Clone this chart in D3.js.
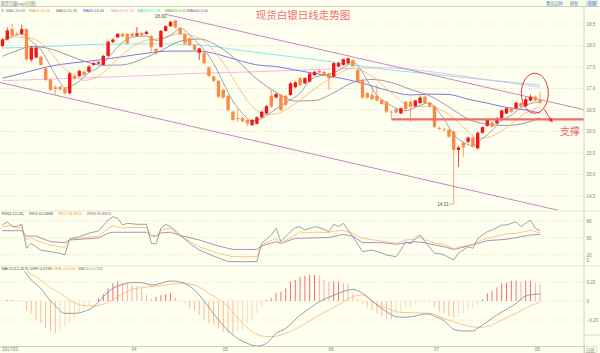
<!DOCTYPE html>
<html lang="zh">
<head>
<meta charset="UTF-8">
<title>现货白银日线走势图</title>
<script src="https://d3js.org/d3.v7.min.js"></script>
<style>
  body { margin: 0; background: #fffff0; }
  svg { display: block; }
  text { font-family: "Liberation Sans", "Noto Sans CJK SC", sans-serif; }
</style>
</head>
<body>
<script>
// daily candles: [open, high, low, close]
const candles = [
  [17.99,18.17,17.96,18.14],[18.14,18.42,18.12,18.35],[18.38,18.50,18.21,18.24],[18.27,18.32,18.22,18.26],
  [18.27,18.48,18.25,18.38],[18.38,18.40,17.64,17.68],[17.67,17.98,17.62,17.95],[17.72,17.97,17.70,17.95],
  [17.74,17.76,17.53,17.55],[17.47,17.50,17.17,17.20],[17.21,17.23,16.94,16.97],[17.03,17.08,16.85,16.99],
  [17.04,17.07,16.95,16.98],[17.00,17.03,16.85,16.89],[16.89,17.38,16.86,17.35],[17.29,17.32,17.20,17.24],
  [17.29,17.44,17.27,17.41],[17.39,17.42,17.30,17.32],[17.39,17.54,17.37,17.51],[17.55,17.62,17.53,17.59],
  [17.58,17.64,17.56,17.61],[17.55,17.78,17.53,17.76],[17.76,18.11,17.74,18.09],[18.08,18.17,18.05,18.14],
  [18.19,18.29,18.17,18.27],[18.27,18.30,18.19,18.21],[18.27,18.29,18.02,18.05],[18.27,18.30,18.20,18.22],
  [18.23,18.43,18.21,18.28],[18.29,18.32,18.22,18.24],[18.27,18.35,18.25,18.32],[18.22,18.24,17.86,17.96],
  [17.92,17.94,17.78,17.82],[17.97,18.36,17.95,18.34],[18.34,18.47,18.32,18.45],[18.45,18.57,18.43,18.55],
  [18.58,18.60,18.40,18.42],[18.40,18.42,18.24,18.27],[18.27,18.29,18.02,18.05],[18.17,18.19,17.98,18.01],
  [18.01,18.03,17.87,17.90],[17.83,17.95,17.66,17.93],[17.83,17.86,17.56,17.59],[17.49,17.52,17.26,17.29],
  [17.28,17.30,17.15,17.18],[17.18,17.20,16.78,16.81],[16.97,16.99,16.76,16.79],[16.83,16.85,16.47,16.50],
  [16.46,16.48,16.24,16.27],[16.31,16.52,16.22,16.29],[16.31,16.33,16.21,16.24],[16.27,16.29,16.13,16.19],
  [16.15,16.29,16.12,16.27],[16.18,16.35,16.16,16.33],[16.33,16.48,16.31,16.46],[16.42,16.62,16.40,16.59],
  [16.83,16.97,16.55,16.58],[16.79,16.90,16.77,16.87],[16.85,16.88,16.47,16.50],[16.83,16.85,16.60,16.62],
  [16.85,17.15,16.83,17.12],[17.03,17.17,17.01,17.14],[17.24,17.27,17.05,17.08],[17.12,17.26,17.10,17.24],
  [17.16,17.37,17.14,17.35],[17.31,17.41,17.29,17.39],[17.41,17.44,17.35,17.37],[17.39,17.41,17.29,17.31],
  [17.35,17.37,16.97,17.24],[17.28,17.61,17.25,17.59],[17.51,17.62,17.49,17.59],[17.55,17.70,17.53,17.68],
  [17.59,17.73,17.57,17.70],[17.66,17.68,17.50,17.52],[17.43,17.46,17.13,17.16],[17.20,17.22,16.76,16.79],
  [16.89,16.91,16.76,16.79],[16.85,17.04,16.72,16.75],[16.83,17.08,16.70,16.72],[16.73,16.75,16.62,16.64],
  [16.69,16.71,16.43,16.46],[16.46,16.49,16.30,16.45],[16.52,16.55,16.42,16.44],[16.42,16.56,16.40,16.54],
  [16.69,16.71,16.49,16.52],[16.69,16.72,16.23,16.58],[16.59,16.74,16.56,16.72],[16.66,16.84,16.64,16.79],
  [16.81,16.89,16.64,16.66],[16.67,16.69,16.56,16.59],[16.59,16.61,16.08,16.11],[16.08,16.12,16.03,16.06],
  [16.06,16.09,16.00,16.04],[16.04,16.06,15.85,15.88],[16.00,16.02,14.31,15.57],[15.57,15.66,15.18,15.63],
  [15.74,15.77,15.41,15.63],[15.76,15.88,15.73,15.86],[15.86,15.88,15.62,15.65],[15.61,16.00,15.58,15.97],
  [15.97,16.12,15.95,16.10],[16.13,16.30,16.11,16.27],[16.21,16.24,16.09,16.11],[16.19,16.33,16.17,16.31],
  [16.31,16.51,16.29,16.49],[16.42,16.56,16.40,16.54],[16.54,16.57,16.43,16.46],[16.54,16.69,16.52,16.67],
  [16.66,16.68,16.56,16.58],[16.59,16.80,16.57,16.75],[16.72,16.86,16.70,16.81],[16.81,16.84,16.70,16.72],
  [16.73,16.93,16.64,16.67]
];

const monthTicks = [0, 27, 46, 68, 90, 111];
const monthLabels = ["2017/02", "04", "05", "06", "07", "08"];
const priceTicks = [14.5, 15.0, 15.5, 16.0, 16.5, 17.0, 17.5, 18.0, 18.5];
const rsiTicks = [0, 20, 50, 80];
const macdTicks = [-0.2, 0, 0.2];

// moving averages, [candle index, value]
const ma5 = [[0,18.10],[2,18.22],[4,18.27],[6,18.10],[8,17.90],[10,17.52],[12,17.14],[13,17.01],[14,17.04],[16,17.17],
  [18,17.37],[20,17.49],[22,17.71],[24,17.97],[26,18.15],[28,18.21],[30,18.22],[32,18.12],[34,18.18],[36,18.32],
  [37,18.41],[38,18.35],[40,18.13],[42,17.90],[44,17.58],[46,17.13],[48,16.71],[50,16.42],[52,16.25],[53,16.26],
  [54,16.30],[56,16.45],[58,16.60],[60,16.74],[62,16.89],[64,17.19],[66,17.29],[68,17.33],[70,17.42],[72,17.56],
  [73,17.62],[74,17.53],[76,17.19],[78,16.84],[80,16.67],[82,16.54],[84,16.48],[86,16.56],[88,16.65],[89,16.67],
  [90,16.57],[92,16.29],[94,15.93],[96,15.75],[98,15.67],[100,15.84],[102,16.02],[104,16.26],[106,16.38],
  [108,16.55],[110,16.65],[112,16.69]];
const ma10 = [[0,18.12],[3,18.20],[6,18.17],[9,17.97],[13,17.45],[15,17.31],[17,17.19],[19,17.23],[21,17.37],
  [25,17.79],[29,18.09],[33,18.17],[37,18.27],[41,18.17],[45,17.75],[49,17.06],[51,16.72],[53,16.49],[55,16.39],
  [57,16.41],[61,16.65],[65,16.99],[69,17.28],[73,17.47],[77,17.28],[81,16.90],[85,16.59],[89,16.58],[93,16.40],
  [97,16.00],[99,15.84],[101,15.86],[105,16.09],[109,16.43],[112,16.58]];
const ma20 = [[0,17.75],[3,17.88],[6,17.98],[10,17.92],[14,17.76],[18,17.60],[21,17.54],[25,17.55],[29,17.68],
  [33,17.88],[37,18.10],[41,18.15],[45,17.98],[49,17.64],[53,17.22],[57,16.91],[61,16.71],[65,16.72],[69,16.90],
  [73,17.14],[77,17.21],[81,17.14],[85,16.98],[89,16.83],[93,16.57],[97,16.29],[101,16.17],[105,16.14],
  [109,16.20],[112,16.32]];
const ma40 = [[0,17.24],[5,17.38],[10,17.52],[15,17.60],[20,17.66],[25,17.74],[30,17.82],[35,17.87],[41,17.87],
  [45,17.79],[49,17.66],[53,17.55],[57,17.51],[61,17.43],[65,17.35],[69,17.27],[73,17.18],[77,17.06],[81,16.93],
  [85,16.85],[89,16.87],[93,16.86],[97,16.75],[101,16.66],[105,16.56],[109,16.50],[112,16.43]];
const ma100 = [[0,17.18],[10,17.22],[20,17.26],[30,17.30],[40,17.35],[50,17.38],[60,17.42],[70,17.46],[80,17.48],
  [90,17.38],[100,17.22],[112,17.03]];
const ma200 = [[0,17.94],[10,17.98],[20,18.03],[30,18.04],[40,18.02],[50,17.88],[60,17.74],[70,17.60],[80,17.44],
  [90,17.33],[100,17.21],[112,17.08]];

const maLegend = [
  {label: "K", color: "#707070", x: 1.5},
  {label: "MA5:16.69", color: "#708090", x: 6},
  {label: "MA10:16.58", color: "#f0a050", x: 29},
  {label: "MA20:16.34", color: "#806890", x: 56},
  {label: "MA40:16.43", color: "#5a5ae0", x: 83},
  {label: "MA100:17.03", color: "#ee8ee0", x: 111},
  {label: "MA200:17.08", color: "#3cd0d0", x: 137},
  {label: "MA400:0.00", color: "#3cb43c", x: 165},
  {label: "MA600:0.00", color: "#9050a8", x: 187}
];

// trend channel, [candle index, price]
const channelUpper = [[33.85, 18.73], [121.1, 16.51]];
const channelLower = [[-0.52, 17.14], [115.7, 14.17]];
const supportLevel = 16.28;
const supportFrom = 81;

// RSI(6,12,24), [candle index, value]
const rsi1 = [[0,72.4],[1,78.2],[2,69.4],[3,70],[4,73.6],[5,31.3],[6,40.1],[7,34.1],[8,28],[10,25.3],[12,22.5],
  [13,19.5],[14,48],[16,51.8],[18,57.8],[20,62],[22,81.2],[23,87],[24,84.2],[25,72.4],[26,75.4],[28,73.6],
  [30,73.6],[31,40.1],[32,39],[33,66.6],[34,73.6],[35,69.4],[37,54.8],[39,40.1],[41,28.3],[44,17.5],[47,7.7],
  [50,7.7],[53,7.7],[54,40.1],[56,54.8],[57,66.6],[58,43],[60,60.6],[61,68],[62,69.4],[63,63.6],[65,69.4],
  [66,68],[68,60.6],[69,73.6],[70,69.4],[71,75.4],[73,51.8],[75,25.3],[77,28.3],[79,23],[80,19.5],[82,16.5],
  [83,28.3],[84,43],[85,39],[86,49],[87,54.8],[88,43],[90,22.5],[91,22],[92,19.5],[94,10.7],[95,22.5],
  [97,34.1],[98,31.3],[99,48.9],[101,60.6],[102,63.6],[104,72.4],[105,72.4],[107,78.2],[108,69.4],[110,81.2],
  [111,66.6],[112,62.1]];
const rsi2 = [[0,69.4],[2,72.4],[3,66.6],[4,69.4],[5,46],[6,50],[7,45],[10,37.1],[13,32.5],[14,47],[16,48.9],
  [20,53],[22,66.6],[23,70.9],[25,66.6],[26,68],[30,68],[31,53],[32,51.8],[33,63.6],[35,66.6],[37,53],
  [41,34.1],[45,22.5],[48,16.5],[53,16.5],[54,37.1],[57,48.9],[58,40.1],[61,54.8],[62,60.6],[63,58.5],
  [65,59.8],[68,59],[69,61.6],[71,63],[73,57.8],[75,49],[79,44],[82,40.1],[84,46],[86,47],[87,50.4],[88,46],
  [90,40.1],[92,38],[94,30.5],[97,37.1],[98,38],[99,43],[101,48.9],[105,56.5],[107,57.8],[110,63],[112,58.5]];
const rsi3 = [[0,62.4],[4,62.4],[5,52.8],[7,52.8],[10,43],[13,41.3],[14,46],[20,49.5],[22,57.8],[23,59.6],
  [30,59.6],[31,54],[32,52.8],[33,58.4],[35,59.6],[37,54],[41,46],[45,35.3],[48,29.3],[53,29.3],[54,35.3],
  [57,43],[58,40.1],[61,48.9],[62,48.9],[68,50.4],[71,55.7],[73,52.8],[75,41.3],[79,41.3],[82,38.4],[86,43],
  [88,41],[90,37.1],[92,34.1],[94,29.3],[97,35.3],[99,40.1],[101,44.8],[105,47.2],[110,54.8],[112,55.8]];

// MACD(12,26,9)
const diff = [[0,0.35],[4,0.33],[6,0.22],[8,0.13],[10,0.0],[11,-0.05],[13,-0.13],[15,-0.13],[17,-0.11],
  [19,-0.06],[21,0.046],[23,0.133],[25,0.175],[27,0.193],[29,0.193],[31,0.168],[33,0.186],[35,0.211],[37,0.2],
  [40,0.116],[42,0.0],[45,-0.2],[48,-0.358],[51,-0.446],[53,-0.474],[55,-0.446],[57,-0.34],[59,-0.288],
  [62,-0.15],[64,-0.077],[66,-0.007],[68,0.039],[70,0.081],[72,0.116],[73,0.123],[74,0.109],[76,0.046],
  [78,-0.042],[80,-0.112],[82,-0.165],[84,-0.172],[86,-0.158],[88,-0.137],[89,-0.137],[90,-0.16],[92,-0.207],
  [94,-0.298],[96,-0.316],[98,-0.316],[99,-0.288],[101,-0.218],[103,-0.147],[105,-0.088],[107,-0.025],
  [109,0.053],[110,0.065],[112,0.074]];
const dea = [[0,0.35],[4,0.34],[6,0.28],[8,0.221],[10,0.14],[12,0.081],[15,-0.02],[18,-0.053],[21,-0.035],
  [24,0.046],[27,0.123],[31,0.151],[34,0.168],[37,0.186],[40,0.168],[43,0.081],[47,-0.06],[50,-0.235],
  [54,-0.368],[56,-0.375],[59,-0.34],[62,-0.27],[66,-0.147],[70,-0.042],[73,0.046],[75,0.063],[77,-0.007],
  [80,-0.077],[83,-0.12],[86,-0.125],[89,-0.13],[92,-0.183],[95,-0.235],[99,-0.277],[101,-0.27],[104,-0.2],
  [107,-0.13],[110,-0.05],[112,-0.012]];
const macdBars = [0,0.011,0.011,0.008,0.005,-0.095,-0.13,-0.2,-0.235,-0.288,-0.323,-0.34,-0.305,-0.27,-0.235,
  -0.182,-0.13,-0.077,-0.042,-0.007,0.028,0.074,0.133,0.186,0.204,0.193,0.186,0.168,0.158,0.133,0.063,0.028,
  0.046,0.063,0.074,0.081,0.035,0.004,-0.025,-0.077,-0.095,-0.147,-0.2,-0.235,-0.253,-0.288,-0.323,-0.34,-0.34,
  -0.323,-0.305,-0.235,-0.193,-0.13,-0.06,0.01,0.028,0.088,0.098,0.133,0.204,0.221,0.256,0.263,0.274,0.274,
  0.263,0.221,0.204,0.204,0.204,0.186,0.18,0.081,0.018,-0.025,-0.067,-0.095,-0.13,-0.158,-0.182,-0.193,-0.147,
  -0.112,-0.077,-0.06,-0.032,-0.014,-0.007,-0.014,-0.06,-0.112,-0.13,-0.165,-0.182,-0.165,-0.13,-0.095,-0.077,
  -0.042,0.018,0.081,0.109,0.144,0.186,0.193,0.214,0.214,0.204,0.214,0.214,0.193,0.173];

const W = 600, H = 353, right = 584;
const bg = "#fffff0", gridColor = "#d6d6c6", axisColor = "#c4c4b4", labelColor = "#808080";
const legendSize = 3.9;

const svg = d3.select("body").append("svg").attr("width", W).attr("height", H);
svg.append("rect").attr("width", W).attr("height", H).attr("fill", bg);

const x = d3.scaleLinear().domain([0, candles.length - 1]).range([2.5, 540.1]);
const y = d3.scaleLinear().domain([14.5, 18.5]).range([196, 24]);
const yRsi = d3.scaleLinear().domain([20, 80]).range([254.7, 220.7]);
const yMacd = d3.scaleLinear().domain([-0.2, 0.2]).range([320, 282]);

const defs = svg.append("defs");
function clip(id, y0, y1) {
  defs.append("clipPath").attr("id", id).append("rect")
    .attr("x", 0).attr("y", y0).attr("width", right).attr("height", y1 - y0);
}
clip("c-main", 7, 211);
clip("c-rsi", 211, 266);
clip("c-macd", 271.5, 346.5);
defs.append("marker").attr("id", "arrow").attr("viewBox", "0 0 10 10")
  .attr("refX", 5).attr("refY", 5).attr("markerWidth", 5).attr("markerHeight", 5)
  .attr("orient", "auto-start-reverse")
  .append("path").attr("d", "M0,0L10,5L0,10z").attr("fill", "#e23a3a");

// header
svg.append("line").attr("x1", 0).attr("x2", W).attr("y1", 6.5).attr("y2", 6.5)
  .attr("stroke", "#cfcfc0").attr("stroke-width", 1);
svg.append("text").attr("x", 0.5).attr("y", 4.6).attr("font-size", 4.2).attr("fill", "#707070")
  .text("现货白银(ag)(日线)");
[["叠加品种", 546], ["刷新", 570]].forEach(([t, px]) => {
  svg.append("text").attr("x", px).attr("y", 4.8).attr("font-size", 4.2).attr("fill", "#4f86b8").text(t);
});
svg.append("rect").attr("x", 586).attr("y", 0.5).attr("width", 12).attr("height", 5.5).attr("fill", "#cfe0ee");
svg.append("text").attr("x", 587.8).attr("y", 4.8).attr("font-size", 4.2).attr("fill", "#4f86b8").text("全屏");

svg.selectAll(".ma-legend").data(maLegend).enter().append("text")
  .attr("class", "ma-legend")
  .attr("x", d => d.x).attr("y", 12)
  .attr("font-size", legendSize).attr("fill", d => d.color)
  .text(d => d.label);

// ---- main panel ----
const dash = "1.5,1.5";
svg.append("g").selectAll("line").data(priceTicks).enter().append("line")
  .attr("x1", 0).attr("x2", right).attr("y1", d => y(d)).attr("y2", d => y(d))
  .attr("stroke", gridColor).attr("stroke-dasharray", dash).attr("stroke-width", 0.6);

const main = svg.append("g").attr("clip-path", "url(#c-main)");
const maLine = d3.line().x(d => x(d[0])).y(d => y(d[1])).curve(d3.curveMonotoneX);
[[ma200, "#74e6e6"], [ma100, "#f4aeee"], [ma40, "#6a6ae6"], [ma20, "#9a86aa"], [ma10, "#f8b878"], [ma5, "#8a9aaa"]]
  .forEach(([data, color]) => {
    main.append("path").datum(data).attr("d", maLine)
      .attr("fill", "none").attr("stroke", color).attr("stroke-width", 0.9);
  });

const straight = d3.line().x(d => x(d[0])).y(d => y(d[1]));
[channelUpper, channelLower].forEach(c => {
  main.append("path").datum(c).attr("d", straight)
    .attr("fill", "none").attr("stroke", "#c488c4").attr("stroke-width", 1);
});

const up = "#f01818", down = "#f98a48";
const k = main.append("g").selectAll("g").data(candles).enter().append("g");
k.append("line")
  .attr("x1", (d, i) => x(i)).attr("x2", (d, i) => x(i))
  .attr("y1", d => y(d[1])).attr("y2", d => y(d[2]))
  .attr("stroke", d => d[3] >= d[0] ? up : down).attr("stroke-width", 0.8);
k.append("rect")
  .attr("x", (d, i) => x(i) - 1.7).attr("width", 3.4)
  .attr("y", d => y(Math.max(d[0], d[3])))
  .attr("height", d => Math.max(0.8, Math.abs(y(d[0]) - y(d[3]))))
  .attr("fill", d => d[3] >= d[0] ? up : down);

// high / low marks
const hiIdx = d3.maxIndex(candles, d => d[1]);
const loIdx = d3.minIndex(candles, d => d[2]);
svg.append("text").attr("x", x(hiIdx) - 9).attr("y", y(candles[hiIdx][1]) - 1.5)
  .attr("text-anchor", "end").attr("font-size", 4.6).attr("fill", "#505050")
  .text(candles[hiIdx][1].toFixed(2));
svg.append("text").attr("x", x(loIdx) - 5).attr("y", y(candles[loIdx][2]) + 1.6)
  .attr("text-anchor", "end").attr("font-size", 4.6).attr("fill", "#505050")
  .text(candles[loIdx][2].toFixed(2));
svg.append("line").attr("x1", x(loIdx) - 4.5).attr("x2", x(loIdx) - 0.8)
  .attr("y1", y(candles[loIdx][2])).attr("y2", y(candles[loIdx][2]))
  .attr("stroke", "#606060").attr("stroke-width", 0.5);

// annotations
const supY = y(supportLevel);
svg.append("line").attr("x1", x(supportFrom)).attr("x2", right).attr("y1", supY).attr("y2", supY)
  .attr("stroke", "#f26a6a").attr("stroke-width", 2.2);
const cx = x(110.9), cy = y(16.89);
svg.append("ellipse").attr("cx", cx).attr("cy", cy).attr("rx", 13.5).attr("ry", 20)
  .attr("fill", "none").attr("stroke", "#e63434").attr("stroke-width", 1);
svg.append("line").attr("x1", cx + 9.5).attr("y1", cy + 16).attr("x2", cx + 16.5).attr("y2", cy + 27.5)
  .attr("stroke", "#e23a3a").attr("stroke-width", 1).attr("marker-end", "url(#arrow)");
svg.append("text").attr("x", 560).attr("y", supY + 16).attr("font-size", 10)
  .attr("font-family", "Noto Sans CJK SC").attr("fill", "#f26464").text("支撑");
svg.append("text").attr("x", 303).attr("y", 19).attr("text-anchor", "middle").attr("font-size", 10.5)
  .attr("font-family", "Noto Sans CJK SC").attr("fill", "#f07070").text("现货白银日线走势图");

function styleAxis(g) {
  g.select(".domain").remove();
  g.selectAll("text").attr("fill", labelColor).attr("font-size", 4.5)
    .attr("font-family", "Liberation Sans");
}
svg.append("g").attr("transform", `translate(${right},0)`)
  .call(d3.axisRight(y).tickValues(priceTicks).tickSize(0).tickPadding(2.5).tickFormat(d3.format(".1f")))
  .call(styleAxis);

// separators and frame
[211, 266].forEach(v => {
  svg.append("line").attr("x1", 0).attr("x2", W).attr("y1", v).attr("y2", v)
    .attr("stroke", "#d8d8c8").attr("stroke-width", 0.7);
});
svg.append("line").attr("x1", right).attr("x2", W).attr("y1", 335).attr("y2", 335)
  .attr("stroke", axisColor).attr("stroke-width", 0.7);
svg.append("line").attr("x1", right).attr("x2", right).attr("y1", 6.5).attr("y2", H)
  .attr("stroke", axisColor).attr("stroke-width", 0.8);

// ---- RSI panel ----
svg.append("g").selectAll("line").data([20, 50, 80]).enter().append("line")
  .attr("x1", 0).attr("x2", right).attr("y1", d => yRsi(d)).attr("y2", d => yRsi(d))
  .attr("stroke", gridColor).attr("stroke-dasharray", dash).attr("stroke-width", 0.6);
const rsiG = svg.append("g").attr("clip-path", "url(#c-rsi)");
const rsiLine = d3.line().x(d => x(d[0])).y(d => yRsi(d[1]));
[[rsi3, "#9474b4"], [rsi2, "#f8b878"], [rsi1, "#7d8c9c"]].forEach(([data, color]) => {
  rsiG.append("path").datum(data).attr("d", rsiLine)
    .attr("fill", "none").attr("stroke", color).attr("stroke-width", 0.8);
});
const rsiAxis = svg.append("g").attr("transform", `translate(${right},0)`)
  .call(d3.axisRight(yRsi).tickValues(rsiTicks).tickSize(0).tickPadding(2.5).tickFormat(d3.format("d")))
  .call(styleAxis);
rsiAxis.selectAll(".tick").filter(d => d === 0).attr("transform", `translate(0,${yRsi(20) + 6})`);

[["RSI(6,12,24)", "#505050", 1.5], ["RSI1:62.0688", "#4a5868", 29], ["RSI2:58.4650", "#f49a40", 58],
 ["RSI3:55.8323", "#8a5aa8", 87]].forEach(([t, c, px]) => {
  svg.append("text").attr("x", px).attr("y", 215.2).attr("font-size", legendSize).attr("fill", c).text(t);
});

// ---- MACD panel ----
svg.append("g").selectAll("line").data(macdTicks).enter().append("line")
  .attr("x1", 0).attr("x2", right).attr("y1", d => yMacd(d)).attr("y2", d => yMacd(d))
  .attr("stroke", gridColor).attr("stroke-dasharray", dash).attr("stroke-width", 0.6);
const macdG = svg.append("g").attr("clip-path", "url(#c-macd)");
macdG.append("g").selectAll("line").data(macdBars).enter().append("line")
  .attr("x1", (d, i) => x(i)).attr("x2", (d, i) => x(i))
  .attr("y1", yMacd(0)).attr("y2", d => yMacd(d))
  .attr("stroke", (d, i) => {
    const prev = i > 0 ? macdBars[i - 1] : 0;
    if (d >= 0) return d >= prev ? "#f26060" : "#f7a4a4";
    return d <= prev ? "#f9b488" : "#fcd2b6";
  })
  .attr("stroke-width", 0.9);
const macdLine = d3.line().x(d => x(d[0])).y(d => yMacd(d[1])).curve(d3.curveMonotoneX);
[[dea, "#f8c080"], [diff, "#8494a4"]].forEach(([data, color]) => {
  macdG.append("path").datum(data).attr("d", macdLine)
    .attr("fill", "none").attr("stroke", color).attr("stroke-width", 0.9);
});
svg.append("g").attr("transform", `translate(${right},0)`)
  .call(d3.axisRight(yMacd).tickValues(macdTicks).tickSize(0).tickPadding(2.5)
    .tickFormat(d => d === 0 ? "0" : d3.format(".2f")(d)))
  .call(styleAxis);

[["MACD(12,26,9)", "#505050", 1.5], ["DIFF:0.0738", "#4a5868", 30], ["DEA:-0.0120", "#f49a40", 53],
 ["MACD:0.1726", "#808080", 78]].forEach(([t, c, px]) => {
  svg.append("text").attr("x", px).attr("y", 270.2).attr("font-size", legendSize).attr("fill", c).text(t);
});

// ---- time axis ----
const xAxis = svg.append("g").attr("transform", "translate(0,346.5)")
  .call(d3.axisBottom(x).tickValues(monthTicks).tickSize(0).tickPadding(1.5)
    .tickFormat((d, i) => monthLabels[i]));
xAxis.select(".domain").attr("d", `M0,0H${right}`).attr("stroke", axisColor).attr("stroke-width", 0.8);
xAxis.selectAll("text").attr("fill", labelColor).attr("font-size", 4.5)
  .attr("font-family", "Liberation Sans").attr("text-anchor", "start").attr("dx", -1);
svg.append("rect").attr("x", right + 0.5).attr("y", 346.5).attr("width", 12).attr("height", 6)
  .attr("fill", "none").attr("stroke", axisColor).attr("stroke-width", 0.5);
svg.append("text").attr("x", right + 2).attr("y", 351.6).attr("font-size", 4.2).attr("fill", labelColor).text("日线");
</script>
</body>
</html>
